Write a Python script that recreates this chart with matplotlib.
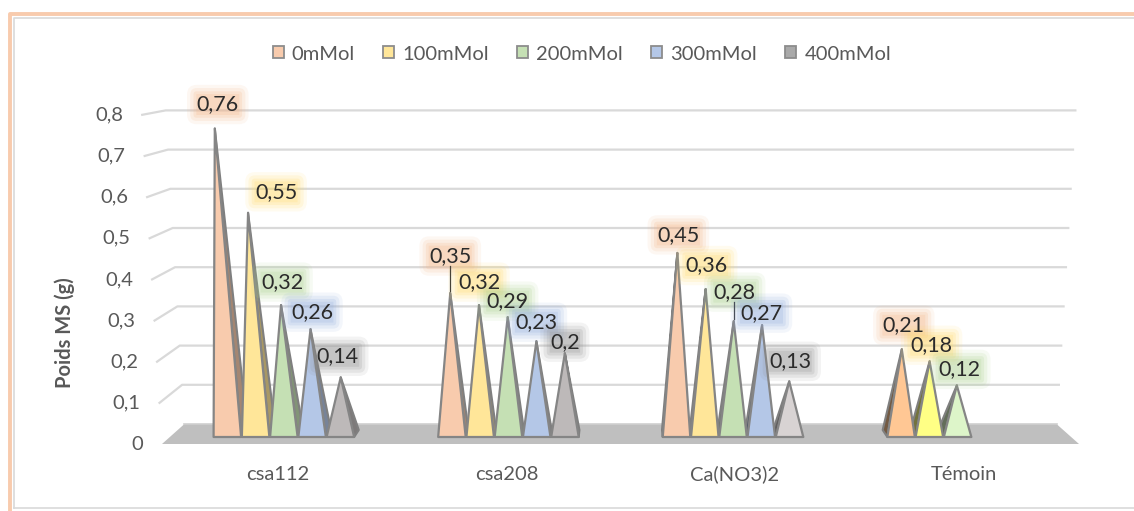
import matplotlib
matplotlib.use('Agg')
import matplotlib.pyplot as plt
from matplotlib.patches import Patch, Polygon
from matplotlib.lines import Line2D

# --- data -------------------------------------------------------------
categories = ['csa112', 'csa208', 'Ca(NO3)2', 'Témoin']
series = ['0mMol', '100mMol', '200mMol', '300mMol', '400mMol']
csa112 = [0.76, 0.55, 0.32, 0.26, 0.14]
csa208 = [0.35, 0.32, 0.29, 0.23, 0.2]
cano3 = [0.45, 0.36, 0.28, 0.27, 0.13]
temoin = [0.21, 0.18, 0.12]
values = [csa112, csa208, cano3, temoin]
yticks = [0, 0.1, 0.2, 0.3, 0.4, 0.5, 0.6, 0.7, 0.8]

# --- style ------------------------------------------------------------
legend_colors = ['#F8CBAD', '#FFE699', '#C5E0B4', '#B4C7E7', '#A9A9A9']
glow_colors = ['#F4B183', '#FFD966', '#A9D18E', '#8FAADC', '#8C8C8C']
face_colors = [
    ['#F8CBAD', '#FFE699', '#C5E0B4', '#B4C7E7', '#BDB9B9'],
    ['#F8CBAD', '#FFE699', '#C5E0B4', '#B4C7E7', '#BDB9B9'],
    ['#F8CBAD', '#FFE699', '#C5E0B4', '#B4C7E7', '#D8D3D3'],
    ['#FFC794', '#FFFF85', '#DDF5C9'],
]
# label offsets from the pyramid tip, in pixels (dx right, dy down)
label_off = [
    [(3, -24), (28, -21), (1, -23), (1.5, -17), (-3, -21)],
    [(0, -37), (0, -23), (0, -16), (0, -19), (0, -11)],
    [(1, -18), (1, -23.5), (1, -29), (-0.6, -12), (1, -20)],
    [(2, -24), (2, -16), (3, -16)],
]
TXT = '#595959'
plt.rcParams['font.family'] = ['Lato', 'DejaVu Sans']

W, H = 1134, 511
PITCH = 228.5        # px between category centres
YPX = 400.0          # px per unit value at the pyramid plane
X0PX, Y0PX = 278, 437
SLOT = 28.75 / PITCH
HALF = 14.0 / PITCH
VX = (620 - X0PX) / PITCH
XL, XR = (162 - X0PX) / PITCH, (1079 - X0PX) / PITCH
Z0, Z1 = 0.35, 0.70


def proj(x, h, z):
    """simple perspective for the 3d floor/walls: z=0 front, z=1 back"""
    s = (1 - 0.049 * z) * (1 + 0.054 * h)
    px = VX + (x - VX) * s
    py = (-7 + 20 * z) / YPX + h * (411.5 - 19.5 * z) / YPX
    return px, py


def dpx(dx, dy):
    return dx / PITCH, -dy / YPX


def shade(c, f):
    r, g, b = matplotlib.colors.to_rgb(c)
    return (r * f, g * f, b * f)


fig = plt.figure(figsize=(W / 100, H / 100), dpi=100)
ax = fig.add_axes([0, 0, 1, 1])
ax.set_xlim(-X0PX / PITCH, (W - X0PX) / PITCH)
ax.set_ylim((Y0PX - H) / YPX, Y0PX / YPX)
ax.axis('off')

# chart frame
fx = lambda p: p / W
fy = lambda p: 1 - p / H
fig.add_artist(Line2D([fx(14), fx(14), fx(W)], [fy(508), fy(18), fy(18)],
                      color='#D9D9D9', lw=1.2, transform=fig.transFigure))
fig.add_artist(Line2D([fx(14), fx(W)], [fy(508), fy(508)],
                      color='#D9D9D9', lw=1.2, transform=fig.transFigure))
fig.add_artist(Line2D([fx(10), fx(10), fx(W)], [fy(H), fy(14), fy(14)],
                      color='#F8CBAD', lw=2.8, transform=fig.transFigure,
                      solid_joinstyle='round'))

# floor
floor = [proj(XL, 0, 0), proj(XR, 0, 0), proj(XR, 0, 1), proj(XL, 0, 1)]
ax.add_patch(Polygon(floor, closed=True, fc='#BFBFBF', ec='none', zorder=1))
ax.plot([floor[3][0], floor[2][0]], [floor[3][1], floor[2][1]],
        color='#CFCFCF', lw=1.2, zorder=1)

# gridlines on side and back walls + tick labels
for t in yticks:
    a, b, c = proj(XL, t, 0), proj(XL, t, 1), proj(XR, t, 1)
    if t > 0:
        ax.plot([a[0], b[0], c[0]], [a[1], b[1], c[1]], color='#D9D9D9',
                lw=1.6, zorder=0, solid_joinstyle='round')
    ox, oy = dpx(-19, 0)
    ax.text(a[0] + ox, a[1], f'{t:g}'.replace('.', ','), ha='right',
            va='center', fontsize=14.5, color=TXT)

ax.text(*proj(XL - 0.39, 0.27, 0), 'Poids MS (g)', rotation=90, ha='center',
        va='center', fontsize=14.5, fontweight='bold', color=TXT)

# pyramids
fronts, sides, labels = [], [], []
for g, vals in enumerate(values):
    for j, v in enumerate(vals):
        xc = g + (j - 2) * SLOT
        fl, fr = proj(xc - HALF, 0, Z0), proj(xc + HALF, 0, Z0)
        bl, br = proj(xc - HALF, 0, Z1), proj(xc + HALF, 0, Z1)
        apex = proj(xc, v, (Z0 + Z1) / 2)
        fc = face_colors[g][j]
        if xc < VX:
            sides.append(([fr, br, apex], shade(fc, 0.66)))
        else:
            sides.append(([bl, fl, apex], shade(fc, 0.45)))
        fronts.append(([fl, fr, apex], fc))
        labels.append((apex, v, j, label_off[g][j]))

for pts, c in sides:
    ax.add_patch(Polygon(pts, closed=True, fc=c, ec='#7F7F7F', lw=1.5,
                         joinstyle='round', zorder=2))
for pts, c in fronts:
    ax.add_patch(Polygon(pts, closed=True, fc=c, ec='#858585', lw=1.6,
                         joinstyle='round', zorder=3))

# data labels on a soft coloured halo
for apex, v, j, (dx, dy) in labels:
    ox, oy = dpx(dx, dy)
    tx, ty = apex[0] + ox, apex[1] + oy
    s = f'{v:g}'.replace('.', ',')
    for pad, a in [(0.45, 0.10), (0.3, 0.14), (0.15, 0.18), (0.02, 0.2)]:
        ax.text(tx, ty, s, ha='center', va='center', fontsize=15.5,
                color='none', zorder=4,
                bbox=dict(boxstyle=f'round,pad={pad}', fc=glow_colors[j],
                          ec='none', alpha=a))
    ax.text(tx, ty, s, ha='center', va='center', fontsize=15.5,
            color='#2B2B2B', zorder=5)
    if dy < -26:
        ax.plot([apex[0], apex[0]],
                [apex[1] + dpx(0, -2)[1], apex[1] + dpx(0, dy + 10)[1]],
                color='#333333', lw=0.9, zorder=4)

# category labels
for g, name in enumerate(categories):
    ax.text(g, dpx(0, 474 - Y0PX)[1], name, ha='center', va='center',
            fontsize=14.5, color=TXT)

handles = [Patch(facecolor=c, edgecolor='#8C8C8C', lw=1.3) for c in legend_colors]
fig.legend(handles, series, loc='center', bbox_to_anchor=(fx(582), fy(54)),
           ncol=5, frameon=False, fontsize=14.5, handlelength=0.55,
           handleheight=0.55, handletextpad=0.4, columnspacing=1.4,
           labelcolor=TXT)

fig.savefig('out.png', dpi=100, facecolor='white')
